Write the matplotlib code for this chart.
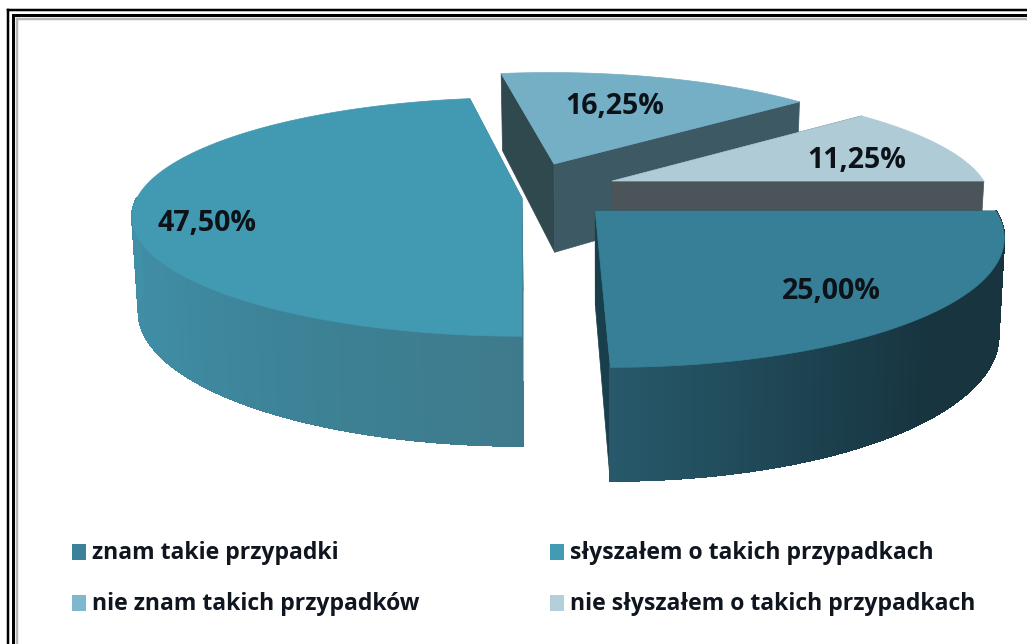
import numpy as np
import matplotlib
matplotlib.use('Agg')
import matplotlib.pyplot as plt
from matplotlib.collections import PolyCollection
from matplotlib.colors import to_rgb
from matplotlib.patches import Polygon, Rectangle

# Chart data
categories = ['znam takie przypadki', 'słyszałem o takich przypadkach',
              'nie znam takich przypadków', 'nie słyszałem o takich przypadkach']
values = [25.00, 47.50, 16.25, 11.25]
value_labels = ['25,00%', '47,50%', '16,25%', '11,25%']

# Style per slice
top_colors = ['#367f96', '#4299b2', '#74afc5', '#aecbd6']
legend_colors = ['#3c8199', '#439ab3', '#7db8cf', '#b3d0da']
start_wall = ['#1a3f4c', '#3f6f7f', '#30494f', '#4a5459']
end_wall = ['#1a3f4c', '#3f7a8c', '#3d5a64', '#4a5459']
rim_stops = [
    ([0, 45, 60, 90], ['#17343f', '#17343f', '#1b3e4b', '#27596a']),
    ([90, 120, 150, 180], ['#3e7a8c', '#3d8296', '#3f8ca3', '#4090a8']),
    ([0, 360], ['#3d5a64', '#3d5a64']),
    ([0, 360], ['#4a5459', '#4a5459']),
]
label_pos = [(831, 291), (207, 223), (615, 106), (857, 160)]
legend_pos = [(72, 553), (550, 553), (72, 604), (550, 604)]

# Perspective: a plane point (a, q) lands on x = X0 + a / q, y = YV + 1 / q
X0, YV = 522, -548
RA, RQ = 0.51, 0.000207
DEPTH = 0.124
LOW_X = 0.986
LOW_PIVOT = 600
centers = [(0.0965, 0.0013175), (0.0, 0.00134), (0.045, 0.0014045), (0.1235, 0.0013717)]
radius_a = [1.035, 1.012, 0.985, 1.0]
radius_q = [1.087, 1.01, 1.0, 1.0]
draw_order = [2, 3, 1, 0]


def project(i, theta, r=1.0, low=False):
    rad = np.radians(theta)
    a = centers[i][0] + r * RA * radius_a[i] * np.cos(rad)
    q = centers[i][1] - r * RQ * radius_q[i] * np.sin(rad)
    y_rel = 1 / q
    x = X0 + a * y_rel
    y = YV + y_rel
    if low:
        # the lower plane sits a little narrower than the top face
        x = LOW_PIVOT + (x - LOW_PIVOT) * LOW_X
        y = YV + y_rel * (1 + DEPTH)
    return np.column_stack([np.atleast_1d(x), np.atleast_1d(y)])


def radial_wall(ax, i, theta, color):
    pts = [project(i, theta, 0)[0], project(i, theta)[0],
           project(i, theta, low=True)[0], project(i, theta, 0, low=True)[0]]
    ax.add_patch(Polygon(pts, closed=True, facecolor=color, edgecolor=color, lw=0.5))


def rim_wall(ax, i, start, end):
    # Only the part that faces the viewer
    start = max(start, 0)
    end = min(end, 180)
    if end <= start:
        return
    stops = rim_stops[i]
    thetas = np.linspace(start, end, 160)
    top = project(i, thetas)
    low = project(i, thetas, low=True)
    quads = [[top[k], top[k + 1], low[k + 1], low[k]] for k in range(len(thetas) - 1)]
    rgb = np.array([to_rgb(c) for c in stops[1]])
    mids = (thetas[:-1] + thetas[1:]) / 2
    colors = np.column_stack([np.interp(mids, stops[0], rgb[:, k]) for k in range(3)])
    ax.add_collection(PolyCollection(quads, facecolors=colors, edgecolors=colors,
                                     linewidths=0.8, antialiaseds=False))


def draw_slices(ax):
    starts = np.cumsum([0] + values[:-1]) * 3.6
    for i in draw_order:
        start = starts[i]
        end = start + values[i] * 3.6
        radial_wall(ax, i, start, start_wall[i])
        radial_wall(ax, i, end, end_wall[i])
        rim_wall(ax, i, start, end)
        arc = project(i, np.linspace(start, end, 200))
        pts = np.vstack([project(i, start, 0), arc])
        ax.add_patch(Polygon(pts, closed=True, facecolor=top_colors[i], edgecolor=top_colors[i], lw=0.5))


def draw_frame(ax):
    for pos, lw, color in [(8, 2.5, 'black'), (12.5, 3, 'black'), (16.5, 2.5, '#b5b5b5')]:
        ax.plot([pos, pos], [644, pos + 2], color=color, lw=lw * 0.72, solid_capstyle='projecting')
        ax.plot([pos, 1027], [pos + 2, pos + 2], color=color, lw=lw * 0.72, solid_capstyle='projecting')


fig = plt.figure(figsize=(10.27, 6.44), dpi=100)
ax = fig.add_axes([0, 0, 1, 1])
ax.set_xlim(0, 1027)
ax.set_ylim(644, 0)
ax.axis('off')

draw_frame(ax)
draw_slices(ax)

for text, pos in zip(value_labels, label_pos):
    ax.text(pos[0], pos[1], text, ha='center', va='center', fontsize=20.5,
            family='Open Sans', fontweight='bold', color='#0c1218')

for name, color, pos in zip(categories, legend_colors, legend_pos):
    ax.add_patch(Rectangle((pos[0], pos[1] - 9), 14, 16, facecolor=color, edgecolor='none'))
    ax.text(pos[0] + 20, pos[1], name, ha='left', va='center', fontsize=16.6,
            family='Open Sans', fontweight='bold', color='#10161f')

fig.savefig('out.png', dpi=100)
